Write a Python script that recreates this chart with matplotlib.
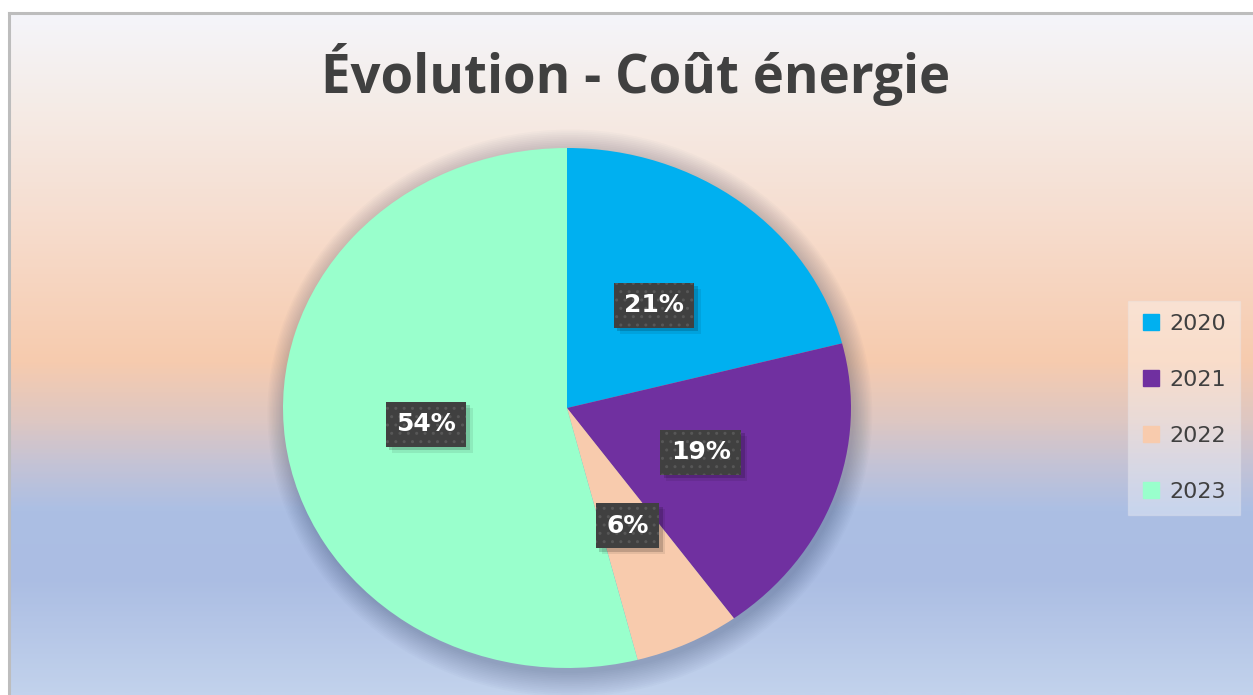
import numpy as np
import matplotlib
matplotlib.use("Agg")
import matplotlib.pyplot as plt
from matplotlib.colors import LinearSegmentedColormap, to_rgb
from matplotlib.patches import Ellipse
from matplotlib.lines import Line2D
import matplotlib.patheffects as pe

years = ["2020", "2021", "2022", "2023"]
shares = [21, 19, 6, 54]
colors = ["#00B0F0", "#7030A0", "#F8CBAD", "#99FFCC"]
title = "Évolution - Coût énergie"

W, H = 1253, 695
fig = plt.figure(figsize=(W / 100, H / 100), dpi=100)
fig.patch.set_facecolor("white")

# background gradient (chart area starts at x=8, y=12 px)
bg = fig.add_axes([9 / W, 0, 1 - 9 / W, 1 - 13 / H])
stops = [(0.0, "#F4F5FA"), (0.13, "#F5ECE7"), (0.28, "#F6DFD2"), (0.51, "#F7CBAE"),
         (0.60, "#DDC7C3"), (0.66, "#C5C3D5"), (0.73, "#ACBFE4"), (0.83, "#ABBDE3"),
         (1.0, "#C2D2EC")]
cmap = LinearSegmentedColormap.from_list("bg", [(p, to_rgb(c)) for p, c in stops])
grad = np.linspace(0, 1, 400).reshape(-1, 1)
bg.imshow(grad, aspect="auto", cmap=cmap, extent=[0, 1, 0, 1], origin="upper")
bg.set_xlim(0, 1)
bg.set_ylim(0, 1)
bg.axis("off")

# frame lines
fig.add_artist(Line2D([8.5 / W, 8.5 / W], [0, 1 - 12.5 / H], color="#BDBDBD", lw=2.2))
fig.add_artist(Line2D([8.5 / W, 1], [1 - 12.5 / H, 1 - 12.5 / H], color="#BDBDBD", lw=2.2))

# pie (slightly elliptical like the original)
cx, cy, rx, ry = 567, 408, 284, 260
ax = fig.add_axes([(cx - rx) / W, (H - cy - ry) / H, 2 * rx / W, 2 * ry / H])
ax.patch.set_alpha(0)

# soft shadow behind the pie
for k in range(14):
    ax.add_patch(Ellipse((0.01, -0.02), 2 * (1 + 0.005 * k), 2 * (1 + 0.007 * k),
                         color="#1F2D50", alpha=0.02, lw=0, zorder=0, clip_on=False))

wedges, texts, autotexts = ax.pie(
    shares, colors=colors, startangle=90, counterclock=False,
    autopct="%d%%", pctdistance=0.5,
    wedgeprops=dict(linewidth=0, zorder=1),
    textprops=dict(color="white", fontsize=18, fontweight="bold", family="DejaVu Sans"))
ax.set_aspect("auto")
ax.set_xlim(-1, 1)
ax.set_ylim(-1, 1)
ax.axis("off")

# data label boxes (dotted dark fill) with a soft drop shadow without the hatch
for t in autotexts:
    t.set_bbox(dict(boxstyle="square,pad=0.42", facecolor="#404040", edgecolor="#575757",
                    linewidth=0, hatch=".."))
    t.get_bbox_patch().set_path_effects([
        pe.SimplePatchShadow(offset=(2.5, -2.5), shadow_rgbFace="black", alpha=0.16, hatch=None),
        pe.SimplePatchShadow(offset=(4.5, -4.5), shadow_rgbFace="black", alpha=0.08, hatch=None),
        pe.Normal()])
    t.set_zorder(5)

fig.text(636 / W, 1 - 75 / H, title, ha="center", va="center", fontsize=38,
         fontweight="bold", color="#404040", family="Open Sans")

handles = [Line2D([], [], marker="s", linestyle="none", markersize=12,
                  markerfacecolor=c, markeredgecolor=c) for c in colors]
leg = fig.legend(handles, years, loc="center", bbox_to_anchor=(1184 / W, 1 - 408 / H),
                 labelspacing=1.62, handlelength=0.8, handletextpad=0.45,
                 borderpad=0.6, fancybox=False, frameon=True, framealpha=0.35,
                 prop=dict(family="DejaVu Sans", size=16))
for txt in leg.get_texts():
    txt.set_color("#404040")
fr = leg.get_frame()
fr.set_facecolor("white")
fr.set_edgecolor("#E8E8EE")
fr.set_linewidth(1)

fig.savefig("out.png", dpi=100)
